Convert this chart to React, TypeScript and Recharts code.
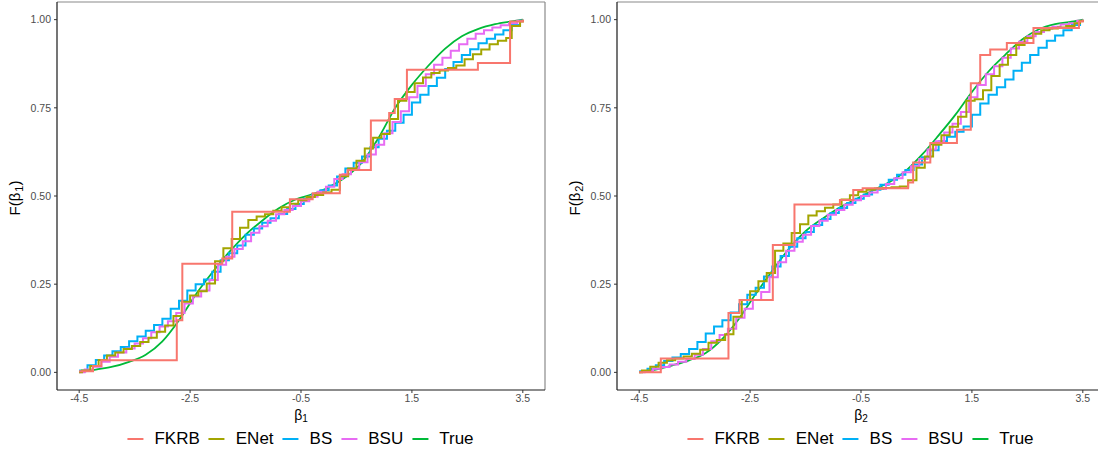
import React from "react";
import { LineChart, Line, XAxis, YAxis, ReferenceLine } from "recharts";

const FONT = '"Liberation Sans", Arial, Helvetica, sans-serif';

const xTicks = [-4.5, -2.5, -0.5, 1.5, 3.5];
const yTicks = [0, 0.25, 0.5, 0.75, 1];
const xDomain = [-4.9, 3.9];
const yDomain = [-0.05, 1.05];

const seriesNames = ["FKRB", "ENet", "BS", "BSU", "True"];
const seriesColors: Record<string, string> = {
  FKRB: "#F8766D",
  ENet: "#A3A500",
  BS: "#00B0F6",
  BSU: "#E76BF3",
  True: "#00BA38",
};

// ---- beta_1 panel: [x, F(x)] ----
const b1FKRB = [
  [-4.5, 0.003], [-4.25, 0.018], [-4.1, 0.034], [-2.74, 0.148], [-2.64, 0.308],
  [-1.92, 0.323], [-1.74, 0.455], [-0.7, 0.491], [-0.29, 0.508], [0.2, 0.56],
  [0.34, 0.574], [0.76, 0.714], [1.09, 0.735], [1.19, 0.775], [1.41, 0.858],
  [2.69, 0.877], [3.27, 0.995], [3.5, 1.0],
];
const b1ENet = [
  [-4.5, 0.0], [-4.45, 0.005], [-4.3, 0.018], [-4.15, 0.035], [-4.0, 0.048], [-3.85, 0.056],
  [-3.7, 0.066], [-3.55, 0.075], [-3.4, 0.086], [-3.25, 0.098], [-3.1, 0.115], [-2.95, 0.133],
  [-2.8, 0.16], [-2.65, 0.2], [-2.5, 0.218], [-2.35, 0.23], [-2.2, 0.252], [-2.05, 0.315],
  [-1.9, 0.352], [-1.75, 0.378], [-1.6, 0.41], [-1.45, 0.432], [-1.3, 0.442], [-1.15, 0.448],
  [-1.0, 0.458], [-0.85, 0.468], [-0.7, 0.478], [-0.55, 0.488], [-0.4, 0.497], [-0.25, 0.503],
  [-0.1, 0.51], [0.05, 0.518], [0.2, 0.556], [0.35, 0.578], [0.5, 0.6], [0.65, 0.635],
  [0.8, 0.665], [0.95, 0.676], [1.1, 0.718], [1.25, 0.77], [1.4, 0.795], [1.55, 0.82],
  [1.7, 0.836], [1.85, 0.849], [2.0, 0.856], [2.15, 0.863], [2.3, 0.87], [2.45, 0.888],
  [2.6, 0.902], [2.75, 0.915], [2.9, 0.93], [3.05, 0.94], [3.2, 0.948], [3.3, 0.982],
  [3.45, 0.995], [3.5, 1.0],
];
const b1BS = [
  [-4.5, 0.005], [-4.35, 0.02], [-4.2, 0.035], [-4.05, 0.048], [-3.9, 0.06], [-3.75, 0.072],
  [-3.6, 0.088], [-3.45, 0.102], [-3.3, 0.118], [-3.15, 0.134], [-3.0, 0.152], [-2.85, 0.18],
  [-2.7, 0.203], [-2.55, 0.232], [-2.4, 0.25], [-2.25, 0.263], [-2.1, 0.285], [-1.95, 0.318],
  [-1.8, 0.338], [-1.65, 0.36], [-1.5, 0.39], [-1.35, 0.408], [-1.2, 0.424], [-1.05, 0.437],
  [-0.9, 0.449], [-0.75, 0.463], [-0.6, 0.477], [-0.45, 0.492], [-0.3, 0.505], [-0.15, 0.516],
  [0.0, 0.53], [0.15, 0.555], [0.3, 0.578], [0.45, 0.594], [0.6, 0.612], [0.75, 0.638],
  [0.9, 0.662], [1.05, 0.685], [1.2, 0.708], [1.35, 0.73], [1.5, 0.765], [1.65, 0.787],
  [1.8, 0.812], [1.95, 0.835], [2.1, 0.86], [2.25, 0.88], [2.4, 0.9], [2.55, 0.916],
  [2.7, 0.933], [2.85, 0.946], [3.0, 0.958], [3.15, 0.97], [3.3, 0.985], [3.45, 0.997],
  [3.5, 1.0],
];
const b1BSU = [
  [-4.5, 0.0], [-4.4, 0.008], [-4.25, 0.016], [-4.1, 0.03], [-3.95, 0.044], [-3.8, 0.056],
  [-3.65, 0.068], [-3.5, 0.082], [-3.35, 0.097], [-3.2, 0.114], [-3.05, 0.13], [-2.9, 0.145],
  [-2.75, 0.168], [-2.6, 0.195], [-2.45, 0.215], [-2.3, 0.232], [-2.15, 0.262], [-2.0, 0.305],
  [-1.85, 0.328], [-1.7, 0.35], [-1.55, 0.372], [-1.4, 0.396], [-1.25, 0.414], [-1.1, 0.43],
  [-0.95, 0.448], [-0.8, 0.46], [-0.65, 0.472], [-0.5, 0.485], [-0.35, 0.498], [-0.2, 0.512],
  [-0.05, 0.526], [0.1, 0.548], [0.25, 0.562], [0.4, 0.578], [0.55, 0.596], [0.7, 0.618],
  [0.85, 0.645], [1.0, 0.678], [1.15, 0.71], [1.3, 0.74], [1.45, 0.78], [1.6, 0.812],
  [1.75, 0.845], [1.9, 0.872], [2.05, 0.892], [2.2, 0.912], [2.35, 0.93], [2.5, 0.946],
  [2.65, 0.96], [2.8, 0.97], [2.95, 0.978], [3.1, 0.984], [3.25, 0.99], [3.4, 0.997],
  [3.5, 1.0],
];
const b1True = [
  [-4.5, 0.0], [-4.2, 0.008], [-3.9, 0.016], [-3.6, 0.03], [-3.3, 0.05], [-3.0, 0.088],
  [-2.7, 0.148], [-2.4, 0.22], [-2.1, 0.283], [-1.8, 0.34], [-1.5, 0.39], [-1.2, 0.43],
  [-0.9, 0.465], [-0.6, 0.49], [-0.3, 0.505], [0.0, 0.525], [0.3, 0.553], [0.6, 0.595],
  [0.9, 0.665], [1.2, 0.75], [1.5, 0.815], [1.8, 0.87], [2.1, 0.918], [2.4, 0.953],
  [2.7, 0.974], [3.0, 0.987], [3.3, 0.995], [3.5, 1.0],
];

// ---- beta_2 panel ----
const b2FKRB = [
  [-4.5, 0.0], [-4.11, 0.039], [-2.89, 0.168], [-2.69, 0.205], [-2.09, 0.361],
  [-1.7, 0.476], [-0.88, 0.489], [-0.64, 0.517], [-0.47, 0.522], [0.35, 0.538],
  [0.44, 0.595], [0.75, 0.65], [1.23, 0.6875], [1.48, 0.82], [1.65, 0.9],
  [1.83, 0.915], [2.13, 0.934], [2.61, 0.976], [3.43, 0.995], [3.5, 1.0],
];
const b2ENet = [
  [-4.5, 0.0], [-4.45, 0.005], [-4.3, 0.016], [-4.15, 0.027], [-4.0, 0.034], [-3.85, 0.039],
  [-3.7, 0.045], [-3.55, 0.053], [-3.4, 0.064], [-3.25, 0.084], [-3.1, 0.092], [-2.95, 0.108],
  [-2.8, 0.158], [-2.65, 0.205], [-2.5, 0.23], [-2.35, 0.258], [-2.2, 0.282], [-2.05, 0.345],
  [-1.9, 0.365], [-1.75, 0.395], [-1.6, 0.42], [-1.45, 0.445], [-1.3, 0.457], [-1.15, 0.467],
  [-1.0, 0.476], [-0.85, 0.49], [-0.7, 0.502], [-0.55, 0.512], [-0.4, 0.518], [-0.25, 0.521],
  [-0.1, 0.523], [0.05, 0.525], [0.2, 0.527], [0.35, 0.545], [0.5, 0.58], [0.65, 0.612],
  [0.8, 0.645], [0.95, 0.672], [1.1, 0.696], [1.25, 0.725], [1.4, 0.77], [1.55, 0.774],
  [1.7, 0.8], [1.85, 0.84], [2.0, 0.872], [2.15, 0.9], [2.3, 0.928], [2.45, 0.948],
  [2.6, 0.96], [2.75, 0.97], [2.9, 0.975], [3.05, 0.978], [3.2, 0.982], [3.35, 0.99],
  [3.45, 0.996], [3.5, 1.0],
];
const b2BS = [
  [-4.5, 0.003], [-4.35, 0.01], [-4.2, 0.02], [-4.05, 0.032], [-3.9, 0.042], [-3.75, 0.052],
  [-3.6, 0.066], [-3.45, 0.086], [-3.3, 0.11], [-3.15, 0.13], [-3.0, 0.148], [-2.85, 0.17],
  [-2.7, 0.193], [-2.55, 0.22], [-2.4, 0.24], [-2.25, 0.272], [-2.1, 0.3], [-1.95, 0.33],
  [-1.8, 0.356], [-1.65, 0.38], [-1.5, 0.398], [-1.35, 0.418], [-1.2, 0.435], [-1.05, 0.452],
  [-0.9, 0.466], [-0.75, 0.48], [-0.6, 0.492], [-0.45, 0.504], [-0.3, 0.518], [-0.15, 0.532],
  [0.0, 0.546], [0.15, 0.56], [0.3, 0.574], [0.45, 0.589], [0.6, 0.61], [0.75, 0.63],
  [0.9, 0.655], [1.05, 0.668], [1.2, 0.682], [1.35, 0.697], [1.5, 0.73], [1.65, 0.762],
  [1.8, 0.787], [1.95, 0.808], [2.1, 0.83], [2.25, 0.855], [2.4, 0.878], [2.55, 0.9],
  [2.7, 0.92], [2.85, 0.94], [3.0, 0.955], [3.15, 0.97], [3.3, 0.985], [3.45, 0.996],
  [3.5, 1.0],
];
const b2BSU = [
  [-4.5, 0.0], [-4.4, 0.004], [-4.25, 0.01], [-4.1, 0.015], [-3.95, 0.022], [-3.8, 0.03],
  [-3.65, 0.038], [-3.5, 0.05], [-3.35, 0.066], [-3.2, 0.088], [-3.05, 0.106], [-2.9, 0.124],
  [-2.75, 0.155], [-2.6, 0.18], [-2.45, 0.205], [-2.3, 0.228], [-2.15, 0.27], [-2.0, 0.312],
  [-1.85, 0.345], [-1.7, 0.37], [-1.55, 0.39], [-1.4, 0.415], [-1.25, 0.43], [-1.1, 0.447],
  [-0.95, 0.46], [-0.8, 0.475], [-0.65, 0.488], [-0.5, 0.5], [-0.35, 0.51], [-0.2, 0.52],
  [-0.05, 0.534], [0.1, 0.55], [0.25, 0.567], [0.4, 0.584], [0.55, 0.605], [0.7, 0.632],
  [0.85, 0.655], [1.0, 0.68], [1.15, 0.705], [1.3, 0.738], [1.45, 0.78], [1.6, 0.815],
  [1.75, 0.845], [1.9, 0.868], [2.05, 0.892], [2.2, 0.918], [2.35, 0.937], [2.5, 0.953],
  [2.65, 0.965], [2.8, 0.974], [2.95, 0.98], [3.1, 0.986], [3.25, 0.99], [3.4, 0.997],
  [3.5, 1.0],
];
const b2True = [
  [-4.5, 0.0], [-4.2, 0.008], [-3.9, 0.02], [-3.6, 0.034], [-3.3, 0.055], [-3.0, 0.095],
  [-2.7, 0.152], [-2.4, 0.222], [-2.1, 0.288], [-1.8, 0.35], [-1.5, 0.4], [-1.2, 0.435],
  [-0.9, 0.466], [-0.6, 0.49], [-0.3, 0.515], [0.0, 0.538], [0.3, 0.57], [0.6, 0.617],
  [0.9, 0.672], [1.2, 0.73], [1.5, 0.795], [1.8, 0.853], [2.1, 0.9], [2.4, 0.943],
  [2.7, 0.972], [3.0, 0.987], [3.3, 0.994], [3.5, 1.0],
];

const toPts = (rows: number[][]) => rows.map(([x, y]) => ({ x, y }));

const CHART_W = 560;
const CHART_H = 420;

interface PanelProps {
  left: number;
  sub: string;
  series: Record<string, number[][]>;
}

function Panel({ left, sub, series }: PanelProps) {
  const tickStyle = { fill: "#4D4D4D", fontSize: 10.5, fontFamily: FONT };
  // drawn bottom to top
  const order = ["True", "BS", "BSU", "ENet", "FKRB"];
  return (
    <div style={{ position: "absolute", left, top: 0, width: CHART_W, height: 452 }}>
      <LineChart
        width={CHART_W}
        height={CHART_H}
        margin={{ top: 2, right: 15, bottom: 0, left: 0 }}
      >
        <XAxis
          type="number"
          dataKey="x"
          domain={xDomain}
          ticks={xTicks}
          allowDataOverflow
          tick={tickStyle}
          tickFormatter={(v: number) => v.toFixed(1)}
          tickSize={3}
          tickMargin={2}
          height={30}
          axisLine={{ stroke: "#1a1a1a", strokeWidth: 1.2 }}
          tickLine={{ stroke: "#333" }}
        />
        <YAxis
          type="number"
          dataKey="y"
          domain={yDomain}
          ticks={yTicks}
          allowDataOverflow
          tick={tickStyle}
          tickFormatter={(v: number) => v.toFixed(2)}
          tickSize={3}
          tickMargin={3}
          width={57}
          axisLine={{ stroke: "#1a1a1a", strokeWidth: 1.2 }}
          tickLine={{ stroke: "#333" }}
        />
        <ReferenceLine y={1.05} stroke="#8a8a8a" strokeWidth={1.2} />
        <ReferenceLine x={3.9} stroke="#8a8a8a" strokeWidth={1.2} />
        {order.map((name) => (
          <Line
            key={name}
            data={toPts(series[name])}
            dataKey="y"
            type={name === "True" ? "monotone" : "stepAfter"}
            stroke={seriesColors[name]}
            strokeWidth={name === "True" ? 1.8 : 2}
            dot={false}
            isAnimationActive={false}
          />
        ))}
      </LineChart>

      {/* y axis title */}
      <div
        style={{
          position: "absolute",
          left: 15,
          top: 198,
          transform: "translate(-50%, -50%) rotate(-90deg)",
          fontFamily: FONT,
          fontSize: 15,
          color: "#000",
          whiteSpace: "nowrap",
        }}
      >
        F(β<sub style={{ fontSize: 11, verticalAlign: "-3px", marginLeft: 1 }}>{sub}</sub>)
      </div>

      {/* x axis title */}
      <div
        style={{
          position: "absolute",
          left: 301,
          top: 415,
          transform: "translate(-50%, -50%)",
          fontFamily: FONT,
          fontSize: 14,
          color: "#000",
          whiteSpace: "nowrap",
        }}
      >
        β<sub style={{ fontSize: 10, verticalAlign: "-2px" }}>{sub}</sub>
      </div>

      {/* legend */}
      <div
        style={{
          position: "absolute",
          left: 305,
          top: 439,
          transform: "translate(-50%, -50%)",
          display: "flex",
          alignItems: "center",
          fontFamily: FONT,
          fontSize: 17,
          color: "#000",
          whiteSpace: "nowrap",
        }}
      >
        {seriesNames.map((name) => (
          <div key={name} style={{ display: "flex", alignItems: "center", marginRight: 9 }}>
            <span
              style={{
                display: "inline-block",
                width: 16,
                height: 2,
                background: seriesColors[name],
                marginRight: 11,
              }}
            />
            <span>{name}</span>
          </div>
        ))}
      </div>
    </div>
  );
}

export default function App() {
  return (
    <div
      style={{
        position: "absolute",
        left: 0,
        top: 0,
        width: 1098,
        height: 452,
        overflow: "hidden",
        background: "#fff",
      }}
    >
      <Panel
        left={0}
        sub="1"
        series={{ FKRB: b1FKRB, ENet: b1ENet, BS: b1BS, BSU: b1BSU, True: b1True }}
      />
      <Panel
        left={560}
        sub="2"
        series={{ FKRB: b2FKRB, ENet: b2ENet, BS: b2BS, BSU: b2BSU, True: b2True }}
      />
    </div>
  );
}
